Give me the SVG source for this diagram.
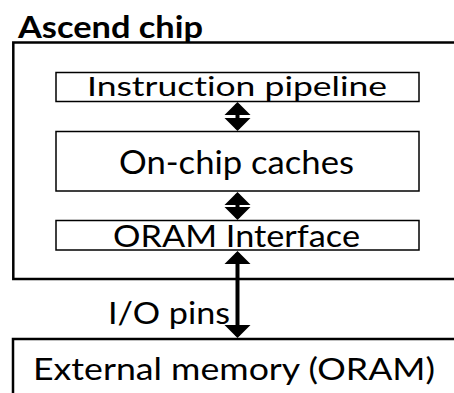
<svg xmlns="http://www.w3.org/2000/svg" width="454" height="393" viewBox="0 0 454 393">
<style>
  text { font-family: Lato, "Liberation Sans", Arial, sans-serif; fill: #000; font-variant-ligatures: none; }
  .outer { fill: #fff; stroke: #000; stroke-width: 2.5; }
  .inner { fill: #fff; stroke: #000; stroke-width: 1.5; }
  .conn { stroke: #000; stroke-width: 4; fill: none; marker-start: url(#ah); marker-end: url(#ah); }
</style>
<defs>
  <marker id="ah" markerUnits="userSpaceOnUse" viewBox="0 -13 13 26" refX="11" refY="0" markerWidth="13" markerHeight="26" orient="auto-start-reverse" overflow="visible">
    <path d="M0,-13 L13,0 L0,13 z" fill="#000"/>
  </marker>
</defs>
<rect width="454" height="393" fill="#fff"/>
<g id="chip">
  <rect class="outer" x="13.3" y="42.5" width="460" height="236.5"/>
  <text x="18" y="38" font-size="29.5" font-weight="bold" textLength="185" lengthAdjust="spacingAndGlyphs">Ascend chip</text>
</g>
<g id="pipeline">
  <rect class="inner" x="56" y="72.5" width="363" height="29"/>
  <text x="87" y="96" font-size="27.5" textLength="300" lengthAdjust="spacingAndGlyphs">Instruction pipeline</text>
</g>
<g id="caches">
  <rect class="inner" x="56" y="131.5" width="363" height="59.5"/>
  <text x="119" y="173.5" font-size="33" textLength="235" lengthAdjust="spacingAndGlyphs">On-chip caches</text>
</g>
<g id="oram">
  <rect class="inner" x="56" y="220.5" width="363" height="29.5"/>
  <text x="113" y="246.5" font-size="31" textLength="247" lengthAdjust="spacingAndGlyphs">ORAM Interface</text>
</g>
<g id="external">
  <rect class="outer" x="13" y="339" width="460" height="80"/>
  <text x="33" y="379.5" font-size="30" textLength="402" lengthAdjust="spacingAndGlyphs">External memory (ORAM)</text>
</g>
<g id="connectors">
  <line class="conn" x1="237.5" y1="104" x2="237.5" y2="129"/>
  <line class="conn" x1="237.5" y1="194" x2="237.5" y2="218"/>
  <line class="conn" x1="237.5" y1="253" x2="237.5" y2="336"/>
  <text x="108" y="323.5" font-size="30" textLength="122" lengthAdjust="spacingAndGlyphs">I/O pins</text>
</g>
</svg>
